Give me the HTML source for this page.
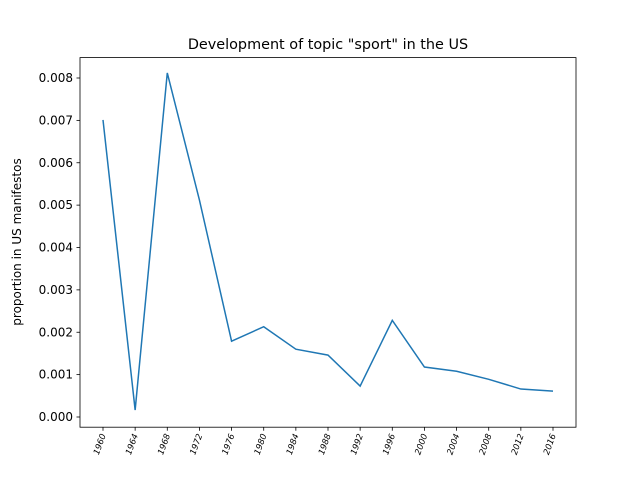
<!DOCTYPE html>
<html><head><meta charset="utf-8"><style>body{margin:0;background:#fff}svg{display:block;font-family:"DejaVu Sans","Liberation Sans",sans-serif}</style></head>
<body>
<svg id="chart" width="640" height="480">
<rect x="0" y="0" width="640" height="480" fill="#fff"/>
<text x="328" y="49" text-anchor="middle" font-size="14.4">Development of topic "sport" in the US</text>
<g id="yaxis"></g><g id="xaxis"></g>
<path id="line" fill="none" stroke="#1f77b4" stroke-width="1.5"/>
<rect x="80" y="57.6" width="496" height="369.6" fill="none" stroke="#000" stroke-width="0.8"/>
<text transform="translate(21,242) rotate(-90)" text-anchor="middle" font-size="12">proportion in US manifestos</text>
</svg>
<script>
const years=[1960,1964,1968,1972,1976,1980,1984,1988,1992,1996,2000,2004,2008,2012,2016];
const values=[0.00701,0.000165,0.00812,0.00512,0.00179,0.00213,0.0016,0.00146,0.00073,0.00228,0.00118,0.00108,0.00089,0.00066,0.00061];
const yTicks=[0,0.001,0.002,0.003,0.004,0.005,0.006,0.007,0.008];
const NS="http://www.w3.org/2000/svg";
const x=yr=>103+(yr-1960)*(450/56);
const y=v=>417-v*42375;
const ya=document.getElementById('yaxis'),xa=document.getElementById('xaxis');
function mk(tag,attrs,parent){const e=document.createElementNS(NS,tag);for(const k in attrs)e.setAttribute(k,attrs[k]);parent.appendChild(e);return e;}
yTicks.forEach(t=>{
 const l=mk('line',{x1:76.5,x2:80,y1:y(t),y2:y(t),stroke:'#000','stroke-width':0.8},ya);
 
 
 const tx=mk('text',{x:73,y:y(t)+4,'text-anchor':'end','font-size':12},ya);
 tx.textContent=t.toFixed(3);
 
 
});
years.forEach(yr=>{
 const l=mk('line',{x1:x(yr),x2:x(yr),y1:427.2,y2:430.7,stroke:'#000','stroke-width':0.8},xa);
 
 
 const tx=mk('text',{transform:`translate(${x(yr)+3},435) rotate(-70)`,'text-anchor':'end','font-size':8.5,'font-style':'italic'},xa);
 tx.textContent=yr;
 
 
});
document.getElementById('line').setAttribute('d',years.map((yr,i)=>(i?'L':'M')+x(yr)+','+y(values[i])).join(''));
</script>
</body></html>
